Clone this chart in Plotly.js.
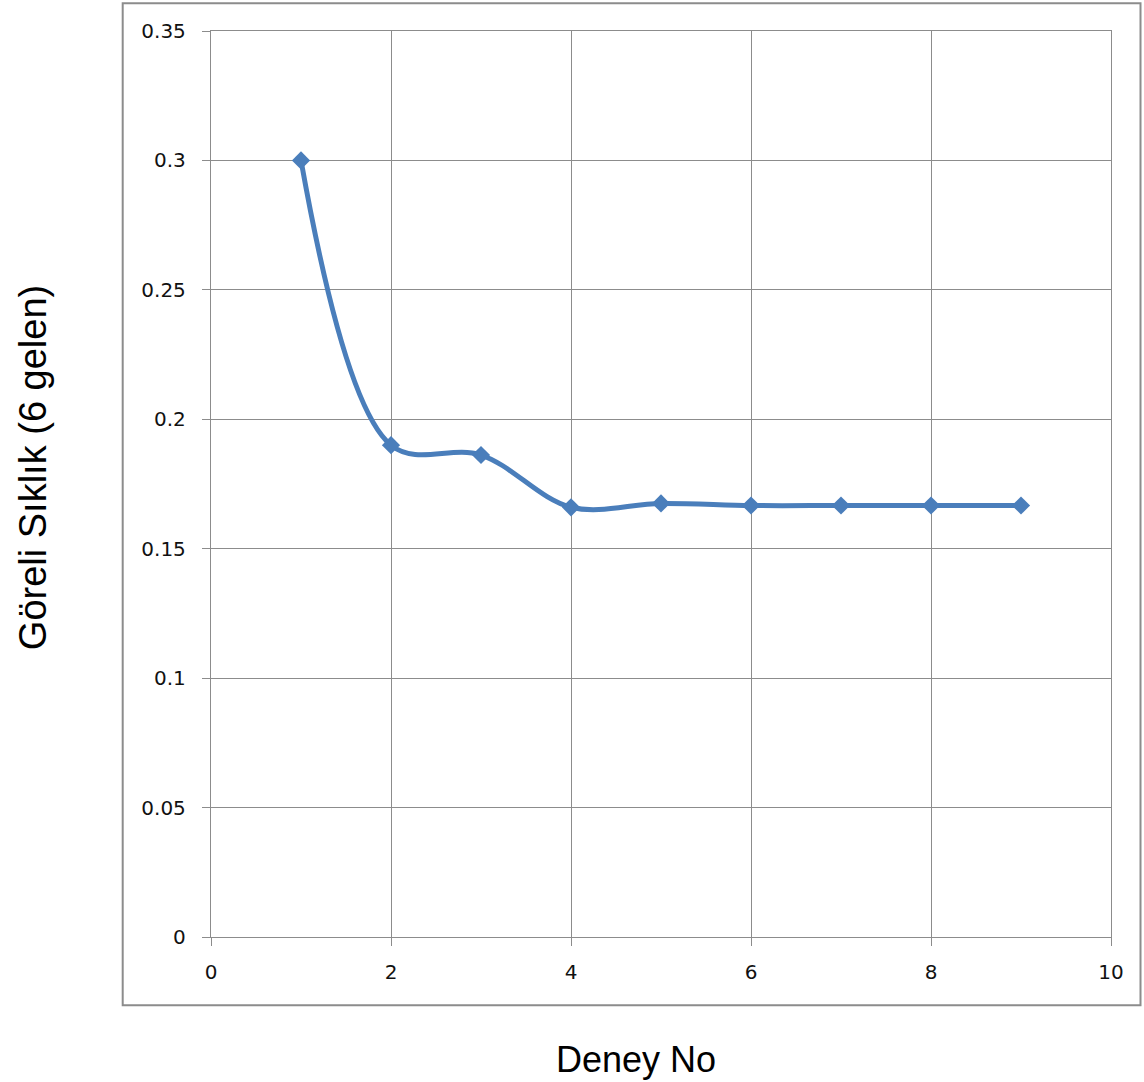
<!DOCTYPE html>
<html>
<head>
<meta charset="utf-8">
<script src="https://cdn.plot.ly/plotly-3.0.1.min.js"></script>
<style>html,body{margin:0;padding:0;background:#fff;}#chart{width:1144px;height:1082px;}</style>
</head>
<body>
<div id="chart"></div>
<script>
const deneyNo = [1, 2, 3, 4, 5, 6, 7, 8, 9];
const goreliSiklik = [0.3, 0.19, 0.1862, 0.166, 0.1675, 0.1667, 0.1667, 0.1667, 0.1667];
const xTitle = "Deney No";
const yTitle = "Göreli Sıklık (6 gelen)";

const gray = "#8c8c8c";
const tickFont = {family: "DejaVu Sans, Verdana, sans-serif", size: 20, color: "#111"};

const trace = {
  x: deneyNo,
  y: goreliSiklik,
  type: "scatter",
  mode: "lines+markers",
  line: {color: "#4a7ebb", width: 5, shape: "spline", smoothing: 1},
  marker: {symbol: "diamond", size: 14, color: "#4a7ebb"},
  showlegend: false,
  hoverinfo: "x+y"
};

const layout = {
  width: 1144,
  height: 1082,
  margin: {l: 211, r: 33, t: 31, b: 145},
  paper_bgcolor: "#fff",
  plot_bgcolor: "#fff",
  showlegend: false,
  xaxis: {
    range: [0, 10],
    dtick: 2,
    tick0: 0,
    showgrid: true,
    gridcolor: gray,
    gridwidth: 1.3,
    zeroline: false,
    showline: true,
    linecolor: gray,
    linewidth: 1.3,
    mirror: true,
    ticks: "outside",
    ticklen: 8,
    tickcolor: gray,
    tickwidth: 1.3,
    ticklabelstandoff: 9,
    tickfont: tickFont
  },
  yaxis: {
    range: [0, 0.35],
    dtick: 0.05,
    tick0: 0,
    showgrid: true,
    gridcolor: gray,
    gridwidth: 1.3,
    zeroline: false,
    showline: true,
    linecolor: gray,
    linewidth: 1.3,
    mirror: true,
    ticks: "outside",
    ticklen: 8,
    tickcolor: gray,
    tickwidth: 1.3,
    ticklabelstandoff: 12,
    tickfont: tickFont
  },
  shapes: [{
    type: "rect",
    xref: "paper", yref: "paper",
    x0: (122.7 - 211) / 900, x1: (1140.5 - 211) / 900,
    y0: (936.7 - 1005) / 905.7, y1: (936.7 - 3.3) / 905.7,
    line: {color: gray, width: 2},
    fillcolor: "rgba(0,0,0,0)",
    layer: "below"
  }],
  annotations: [
    {
      text: xTitle,
      xref: "paper", yref: "paper",
      x: (636 - 211) / 900, y: (936.7 - 1059) / 905.7,
      xanchor: "center", yanchor: "middle",
      showarrow: false,
      font: {family: "Liberation Sans, Arial, sans-serif", size: 36, color: "#000"}
    },
    {
      text: yTitle,
      xref: "paper", yref: "paper",
      x: (33 - 211) / 900, y: (936.7 - 468) / 905.7,
      xanchor: "center", yanchor: "middle",
      textangle: -90,
      showarrow: false,
      font: {family: "Liberation Sans, Arial, sans-serif", size: 38, color: "#000"}
    }
  ]
};

Plotly.newPlot("chart", [trace], layout, {displayModeBar: false});
</script>
</body>
</html>
